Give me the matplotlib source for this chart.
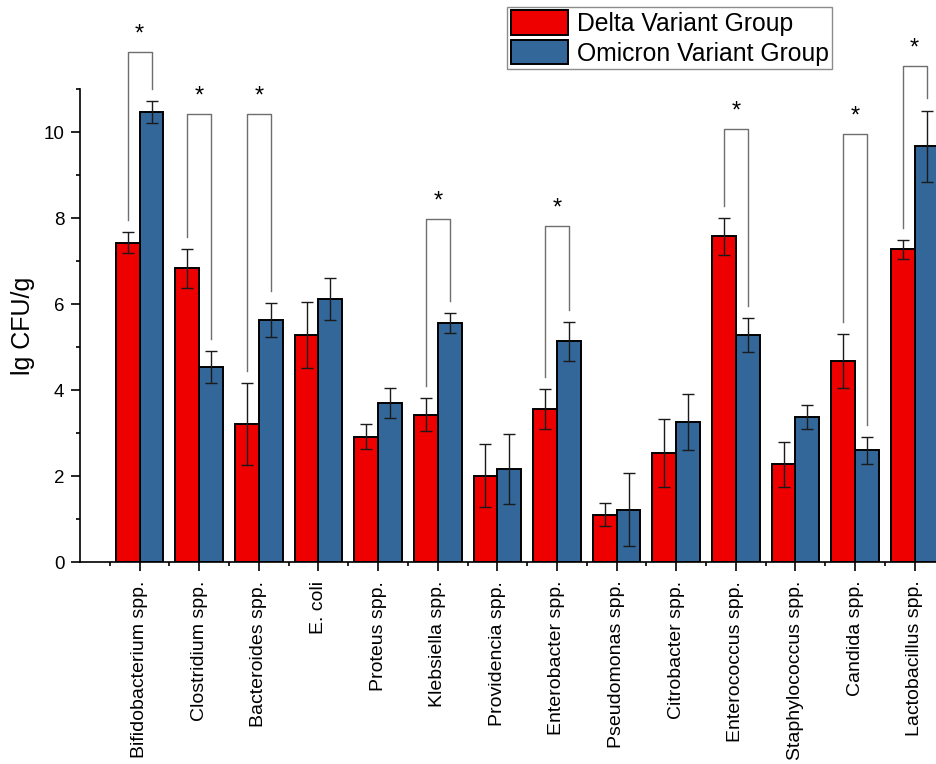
import matplotlib
matplotlib.use("Agg")
import matplotlib.pyplot as plt
from matplotlib.ticker import FixedLocator, MultipleLocator

plt.rcParams["font.family"] = ["Liberation Sans", "DejaVu Sans"]

# Gut flora counts (lg CFU/g), mean and error per group
categories = [
    "Bifidobacterium spp.", "Clostridium spp.", "Bacteroides spp.", "E. coli",
    "Proteus spp.", "Klebsiella spp.", "Providencia spp.", "Enterobacter spp.",
    "Pseudomonas spp.", "Citrobacter spp.", "Enterococcus spp.",
    "Staphylococcus spp.", "Candida spp.", "Lactobacillus spp.",
]
delta_mean = [7.43, 6.83, 3.22, 5.28, 2.92, 3.43, 2.01, 3.56, 1.11, 2.55, 7.58, 2.28, 4.67, 7.27]
delta_err = [0.25, 0.45, 0.95, 0.77, 0.29, 0.38, 0.73, 0.47, 0.26, 0.79, 0.43, 0.52, 0.63, 0.23]
omicron_mean = [10.46, 4.53, 5.63, 6.12, 3.71, 5.56, 2.17, 5.14, 1.22, 3.26, 5.28, 3.38, 2.60, 9.67]
omicron_err = [0.26, 0.37, 0.40, 0.49, 0.35, 0.23, 0.82, 0.45, 0.85, 0.66, 0.39, 0.28, 0.31, 0.83]
series_names = ["Delta Variant Group", "Omicron Variant Group"]

# Significant differences: category index and height of the bracket bar
sig_idx = [0, 1, 2, 5, 7, 10, 12, 13]
sig_top = [11.86, 10.43, 10.41, 7.99, 7.82, 10.08, 9.95, 11.53]

RED = "#EE0000"
BLUE = "#336699"
W = 0.4

fig = plt.figure(figsize=(9.37, 7.64), dpi=100)
ax = fig.add_axes([80 / 937, 201.7 / 764, 857 / 937, 473.3 / 764])

xs = list(range(1, len(categories) + 1))
xd = [x - W / 2 for x in xs]
xo = [x + W / 2 for x in xs]

ax.bar(xd, delta_mean, width=W, color=RED, edgecolor="black", linewidth=1.4,
       label=series_names[0], zorder=2)
ax.bar(xo, omicron_mean, width=W, color=BLUE, edgecolor="black", linewidth=1.4,
       label=series_names[1], zorder=2)
err_kw = dict(fmt="none", ecolor="#1a1a1a", elinewidth=1.0, capsize=4.2,
              capthick=1.0, zorder=3)
ax.errorbar(xd, delta_mean, yerr=delta_err, **err_kw)
ax.errorbar(xo, omicron_mean, yerr=omicron_err, **err_kw)

# Significance brackets with asterisks
gap = 0.28
for i, top in zip(sig_idx, sig_top):
    x0, x1 = xd[i], xo[i]
    y0 = delta_mean[i] + delta_err[i] + gap
    y1 = omicron_mean[i] + omicron_err[i] + gap
    ax.plot([x0, x0, x1, x1], [y0, top, top, y1], color="#6e6e6e",
            linewidth=1.0, clip_on=False, zorder=1)
    ax.annotate("*", xy=((x0 + x1) / 2, top), xytext=(0, 12.5),
                textcoords="offset points", ha="center", va="center",
                fontsize=17, annotation_clip=False)

ax.set_xlim(0, 14.374)
ax.set_ylim(0, 11)
ax.xaxis.set_major_locator(FixedLocator(xs))
ax.xaxis.set_minor_locator(FixedLocator([x - 0.5 for x in xs] + [len(xs) + 0.5]))
ax.set_xticklabels(categories, rotation=90, fontsize=14, va="top")
ax.yaxis.set_major_locator(MultipleLocator(2))
ax.yaxis.set_minor_locator(MultipleLocator(1))
ax.tick_params(axis="y", labelsize=13.5)
ax.tick_params(which="major", length=6.7, width=1.2, direction="out", pad=4.5)
ax.tick_params(axis="x", which="major", pad=6.5)
ax.tick_params(which="minor", length=2.8, width=1.2, direction="out")
for side in ("top", "right"):
    ax.spines[side].set_visible(False)
for side in ("left", "bottom"):
    ax.spines[side].set_linewidth(1.2)
ax.set_ylabel("lg CFU/g", fontsize=18, labelpad=6)

leg = ax.legend(loc="upper left", bbox_to_anchor=(507.3 / 937, 1 - 7 / 764),
                bbox_transform=fig.transFigure, fontsize=17.8, frameon=True,
                fancybox=False, edgecolor="#8c8c8c", framealpha=1,
                handlelength=2.33, handleheight=1.14, labelspacing=0.16,
                borderpad=0.14, handletextpad=0.34, borderaxespad=0)
leg.get_frame().set_linewidth(1.0)

fig.savefig("out.png", dpi=100)
